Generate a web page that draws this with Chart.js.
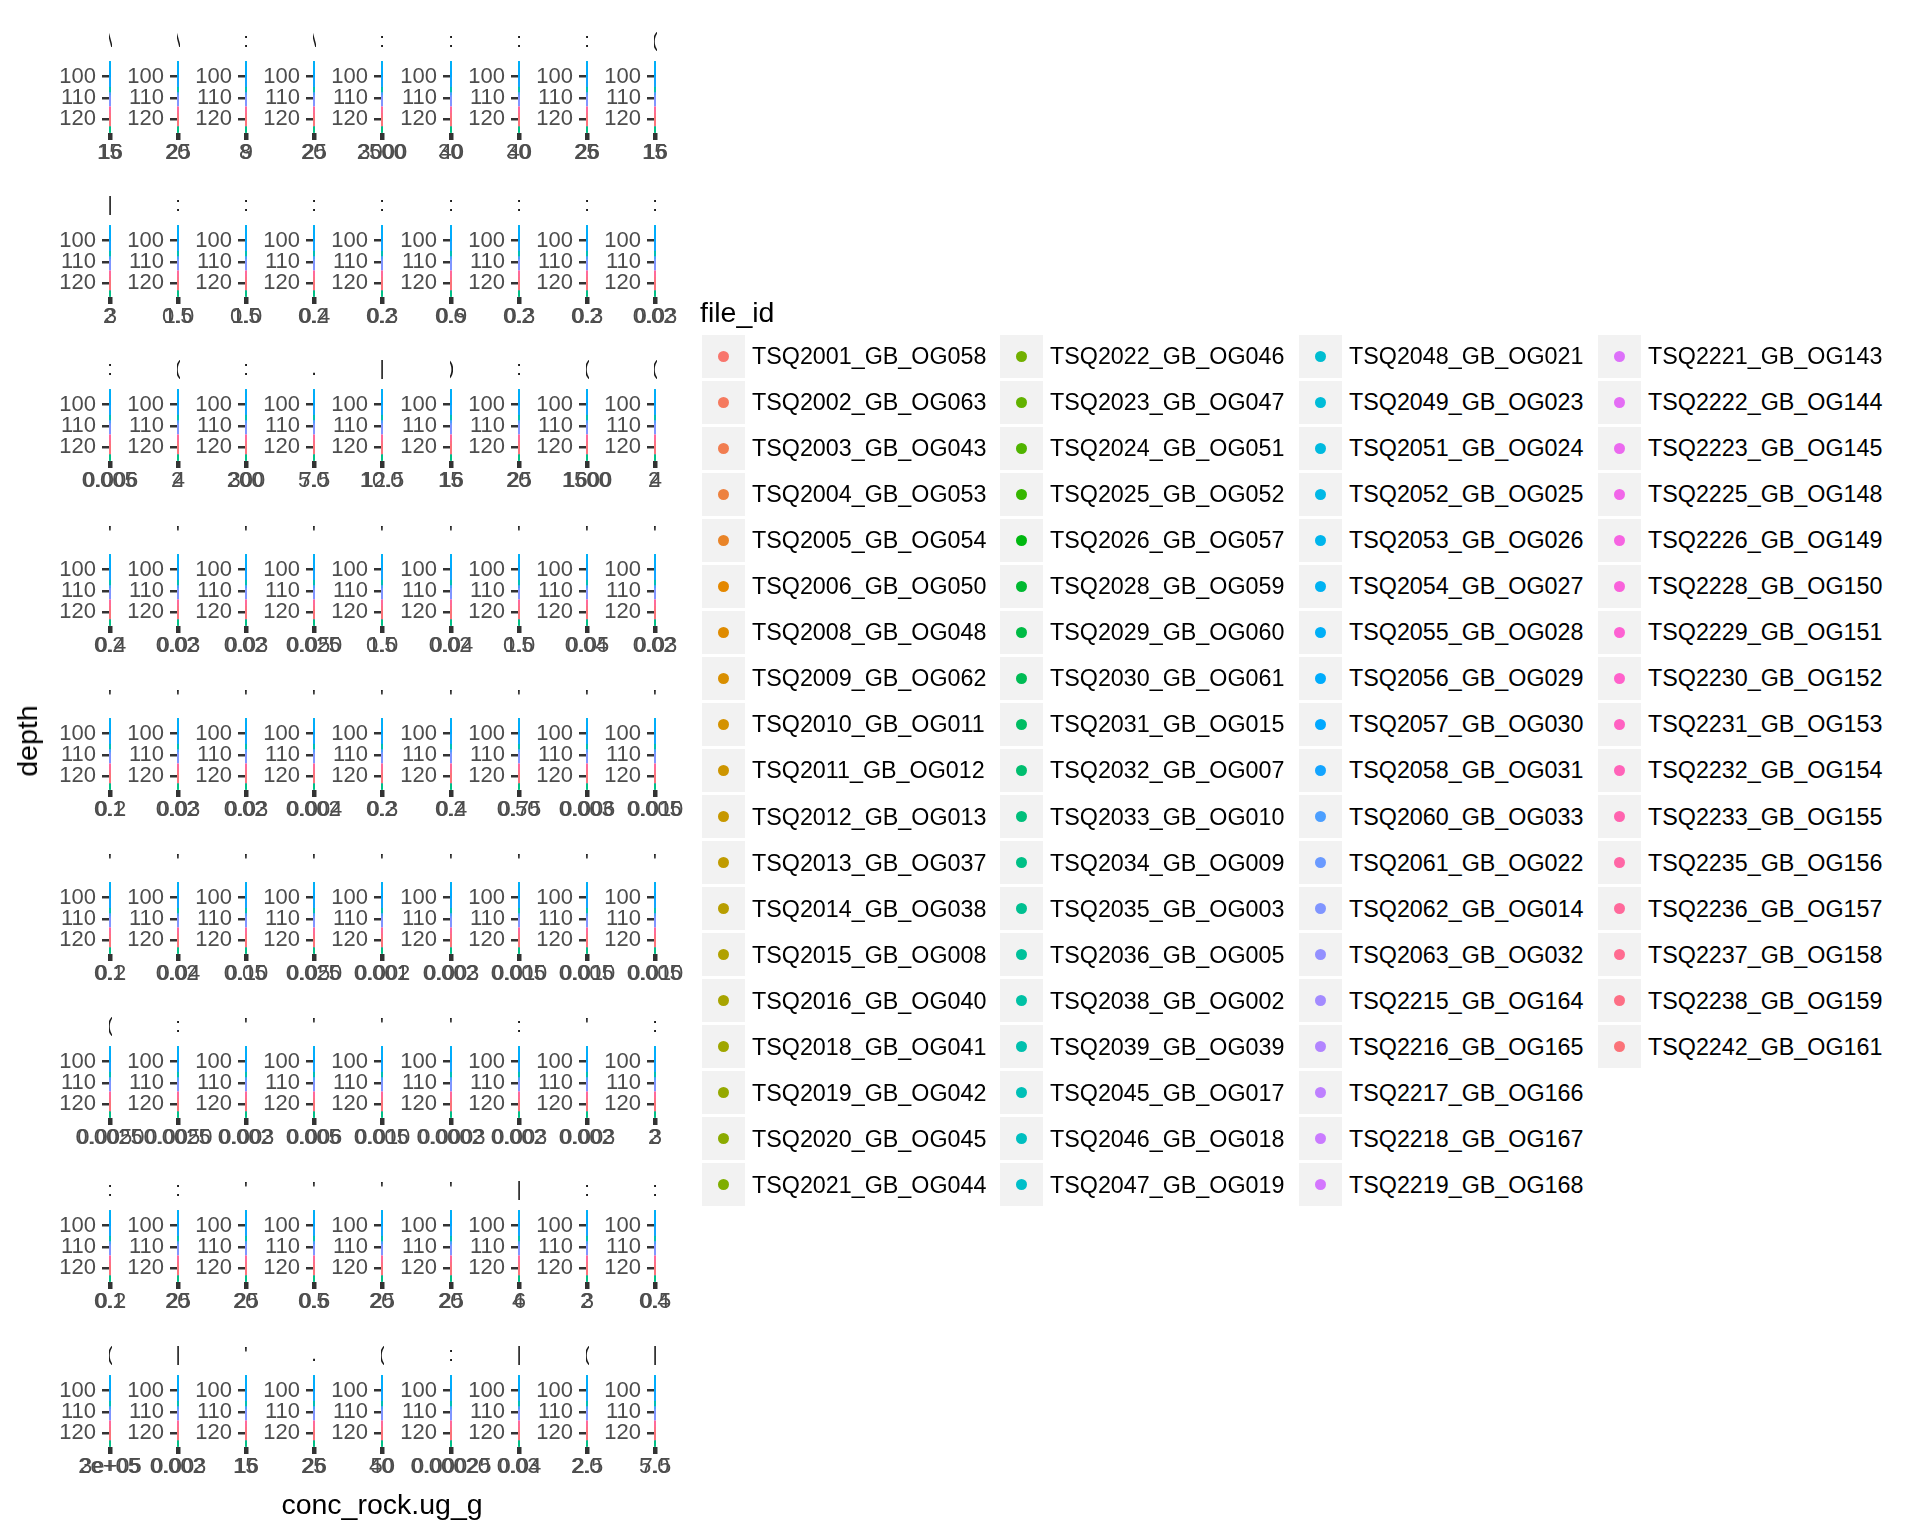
<!DOCTYPE html>
<html><head><meta charset="utf-8">
<script src="https://cdn.jsdelivr.net/npm/chart.js"></script>
<style>
html,body{margin:0;padding:0;background:#fff;}
#wrap{position:relative;width:1920px;height:1536px;overflow:hidden;font-family:"Liberation Sans",Arial,sans-serif;background:#fff;}
canvas.p{position:absolute;}
.strip{position:absolute;width:3px;height:30px;overflow:hidden;}
.strip span{position:absolute;left:-50px;top:0;width:103px;text-align:center;font-size:20px;line-height:30px;color:#1A1A1A;white-space:nowrap;}
.ttl{position:absolute;font-size:28.5px;color:#000;white-space:nowrap;line-height:34px;}
.key{position:absolute;width:43px;height:43px;background:#F2F2F2;}
.dot{position:absolute;width:11px;height:11px;border-radius:50%;left:16px;top:16px;}
.lab{position:absolute;font-size:23.3px;line-height:30px;color:#000;white-space:nowrap;}
</style></head><body><div id="wrap"></div>
<script>
// ---------------- data ----------------
const fileIds = [
 "TSQ2001_GB_OG058","TSQ2002_GB_OG063","TSQ2003_GB_OG043","TSQ2004_GB_OG053","TSQ2005_GB_OG054","TSQ2006_GB_OG050","TSQ2008_GB_OG048","TSQ2009_GB_OG062","TSQ2010_GB_OG011","TSQ2011_GB_OG012","TSQ2012_GB_OG013","TSQ2013_GB_OG037","TSQ2014_GB_OG038","TSQ2015_GB_OG008","TSQ2016_GB_OG040","TSQ2018_GB_OG041","TSQ2019_GB_OG042","TSQ2020_GB_OG045","TSQ2021_GB_OG044",
 "TSQ2022_GB_OG046","TSQ2023_GB_OG047","TSQ2024_GB_OG051","TSQ2025_GB_OG052","TSQ2026_GB_OG057","TSQ2028_GB_OG059","TSQ2029_GB_OG060","TSQ2030_GB_OG061","TSQ2031_GB_OG015","TSQ2032_GB_OG007","TSQ2033_GB_OG010","TSQ2034_GB_OG009","TSQ2035_GB_OG003","TSQ2036_GB_OG005","TSQ2038_GB_OG002","TSQ2039_GB_OG039","TSQ2045_GB_OG017","TSQ2046_GB_OG018","TSQ2047_GB_OG019",
 "TSQ2048_GB_OG021","TSQ2049_GB_OG023","TSQ2051_GB_OG024","TSQ2052_GB_OG025","TSQ2053_GB_OG026","TSQ2054_GB_OG027","TSQ2055_GB_OG028","TSQ2056_GB_OG029","TSQ2057_GB_OG030","TSQ2058_GB_OG031","TSQ2060_GB_OG033","TSQ2061_GB_OG022","TSQ2062_GB_OG014","TSQ2063_GB_OG032","TSQ2215_GB_OG164","TSQ2216_GB_OG165","TSQ2217_GB_OG166","TSQ2218_GB_OG167","TSQ2219_GB_OG168",
 "TSQ2221_GB_OG143","TSQ2222_GB_OG144","TSQ2223_GB_OG145","TSQ2225_GB_OG148","TSQ2226_GB_OG149","TSQ2228_GB_OG150","TSQ2229_GB_OG151","TSQ2230_GB_OG152","TSQ2231_GB_OG153","TSQ2232_GB_OG154","TSQ2233_GB_OG155","TSQ2235_GB_OG156","TSQ2236_GB_OG157","TSQ2237_GB_OG158","TSQ2238_GB_OG159","TSQ2242_GB_OG161"
];
// depth of each sample (estimated)
const sampleDepth = [
 96,98,100,102,117,119,121,96.5,98.5,100.5,110,111,117.5,119.5,120.5,97,99,101,102,
 110.5,117,118.5,120,95.5,97.5,99.5,101.5,116.8,118.2,120.8,124.2,121,111,119,98,106.1,100,102,
 97,99,101,101.5,95,96,95,97.5,100,102.5,109.7,111,111.7,117,118,119,120,121,116.5,
 117.5,118.5,119.5,120.5,117,118,119,120,121,116.6,118.7,120.2,116.5,118.5,119.5,121
];
// x tick labels of each facet (row by row)
const facetTicks = [
 ["15","16"],["20","25"],["8","9"],["20","25"],["2500","3000"],["30","40"],["30","40"],["25","26"],["15","16"],
 ["2","3"],["0.5","1.0"],["0.5","1.0"],["0.2","0.4"],["0.2","0.3"],["0.6","0.9"],["0.2","0.3"],["0.2","0.3"],["0.02","0.03"],
 ["0.005","0.006"],["2","4"],["200","300"],["5.0","7.5"],["10.0","12.5"],["15","16"],["20","25"],["1500","1600"],["2","4"],
 ["0.2","0.4"],["0.02","0.03"],["0.02","0.03"],["0.025","0.050"],["0.5","1.0"],["0.02","0.04"],["0.5","1.0"],["0.04","0.05"],["0.02","0.03"],
 ["0.1","0.2"],["0.02","0.03"],["0.02","0.03"],["0.002","0.004"],["0.2","0.3"],["0.2","0.4"],["0.50","0.75"],["0.003","0.006"],["0.005","0.010"],
 ["0.1","0.2"],["0.02","0.04"],["0.05","0.10"],["0.025","0.050"],["0.001","0.002"],["0.002","0.003"],["0.005","0.010"],["0.005","0.010"],["0.005","0.010"],
 ["0.0025","0.0050"],["0.0025","0.0050"],["0.002","0.003"],["0.005","0.006"],["0.005","0.010"],["0.0002","0.0003"],["0.002","0.003"],["0.002","0.003"],["2","3"],
 ["0.1","0.2"],["20","25"],["20","25"],["0.5","0.6"],["20","25"],["20","25"],["4","6"],["2","3"],["0.4","0.5"],
 ["2e+05","3e+05"],["0.002","0.003"],["15","16"],["25","26"],["40","50"],["0.00020","0.00025"],["0.03","0.04"],["2.0","2.5"],["5.0","7.5"]
];
// concentration where each facet's points sit (estimated)
const facetConc = [
 15.5,22,8.5,22,2700,35,35,25.5,15.5,
 2.5,0.8,0.8,0.3,0.25,0.75,0.25,0.25,0.025,
 0.0055,3,250,6,11,15.5,22,1550,3,
 0.3,0.025,0.025,0.04,0.8,0.03,0.8,0.045,0.025,
 0.15,0.025,0.025,0.003,0.25,0.3,0.6,0.0045,0.0075,
 0.15,0.03,0.075,0.04,0.0015,0.0025,0.0075,0.0075,0.0075,
 0.004,0.004,0.0025,0.0055,0.0075,0.00025,0.0025,0.0025,2.5,
 0.15,22,22,0.55,22,22,5,2.5,0.45,
 250000,0.0025,15.5,25.5,45,0.00022,0.035,2.2,6
];
// visible slivers of the (clipped) strip labels
const stripGlyphs = [
 "\\","\\",":","\\",":",":",":",":","(",
 "|",":",":",":",":",":",":",":",":",
 ":","(",":",".","|",")",":","(","(",
 "'","'","'","'","'","'","'","'","'",
 "'","'","'","'","'","'","'","'","'",
 "'","'","'","'","'","'","'","'","'",
 "(",":","'","'","'","'",":","'",":",
 ":",":","'","'","'","'","|",":",":",
 "(","|","'",".","(",":","|","(","|"
];
const depthTicks = [100,110,120];
const depthRange = [92.6,126.6];

// ---------------- colours (ggplot hue palette) ----------------
function hcl(h,c,l){
  const WY=100, Wu=0.1978398, Wv=0.4683363;
  const hr=h*Math.PI/180, U=c*Math.cos(hr), V=c*Math.sin(hr);
  const Y=WY*(l>7.999592?Math.pow((l+16)/116,3):l/903.3);
  const u=U/(13*l)+Wu, v=V/(13*l)+Wv;
  const X=9*Y*u/(4*v), Z=-X/3-5*Y+3*Y/v;
  const g=t=>t>0.00304?1.055*Math.pow(t,1/2.4)-0.055:12.92*t;
  const cl=x=>Math.round(255*Math.min(1,Math.max(0,x)));
  const R=g((3.240479*X-1.537150*Y-0.498535*Z)/WY);
  const G=g((-0.969256*X+1.875992*Y+0.041556*Z)/WY);
  const B=g((0.055648*X-0.204043*Y+1.057311*Z)/WY);
  return `rgb(${cl(R)},${cl(G)},${cl(B)})`;
}
const nIds=fileIds.length;
const colors=fileIds.map((_,i)=>hcl((15+i*360/nIds)%360,100,65));

// ---------------- layout ----------------
const wrap=document.getElementById('wrap');
const FONT="'Liberation Sans', Arial, sans-serif";
const panelW=2, panelH=72;
const LEFT=70, RIGHT=56, TOP=10, XH=42, YW=50;

for(let k=0;k<81;k++){
  const r=Math.floor(k/9), c=k%9;
  const px=Math.round(109+68.1*c), py=Math.round(61+164.2*r);
  const cv=document.createElement('canvas');
  cv.className='p';
  cv.width=LEFT+panelW+RIGHT; cv.height=TOP+panelH+XH;
  cv.style.width=cv.width+'px'; cv.style.height=cv.height+'px';
  cv.style.left=(px-LEFT)+'px'; cv.style.top=(py-TOP)+'px';
  wrap.appendChild(cv);

  const labels=facetTicks[k];
  const vals=labels.map(Number);
  const lo=vals[0], hi=vals[vals.length-1], d=hi-lo;

  new Chart(cv,{
    type:'scatter',
    data:{datasets:[{
      data:sampleDepth.map(dep=>({x:facetConc[k],y:dep})),
      pointBackgroundColor:colors, pointBorderWidth:0,
      pointRadius:5, pointHoverRadius:5, clip:0
    }]},
    options:{
      responsive:false, animation:false, devicePixelRatio:1, events:[],
      layout:{padding:{left:LEFT-YW,right:RIGHT,top:TOP,bottom:0}},
      plugins:{legend:{display:false},tooltip:{enabled:false},title:{display:false}},
      scales:{
        x:{type:'linear',min:lo-0.1*d,max:hi+0.1*d,
          afterBuildTicks:s=>{s.ticks=vals.map(v=>({value:v}));},
          afterFit:s=>{s.height=XH;s.paddingLeft=0;s.paddingRight=0;},
          ticks:{autoSkip:false,maxRotation:0,minRotation:0,padding:0,color:'#4D4D4D',
            font:{family:FONT,size:22},callback:(v,i)=>labels[i]},
          grid:{drawOnChartArea:false,drawTicks:true,tickLength:7,color:'#333333',lineWidth:2.5},
          border:{display:false}},
        y:{type:'linear',reverse:true,min:depthRange[0],max:depthRange[1],
          afterBuildTicks:s=>{s.ticks=depthTicks.map(v=>({value:v}));},
          afterFit:s=>{s.width=YW;s.paddingTop=0;s.paddingBottom=0;},
          ticks:{padding:6,color:'#4D4D4D',font:{family:FONT,size:22},callback:v=>String(v)},
          grid:{drawOnChartArea:false,drawTicks:true,tickLength:7,color:'#333333',lineWidth:2.5},
          border:{display:false}}
      }
    }
  });

  const st=document.createElement('div');
  st.className='strip';
  st.style.left=(px-0.5)+'px'; st.style.top=(py-36)+'px';
  const sp=document.createElement('span'); sp.textContent=stripGlyphs[k];
  st.appendChild(sp); wrap.appendChild(st);
}

// axis titles
const yt=document.createElement('div'); yt.className='ttl'; yt.textContent='depth';
yt.style.left='27px'; yt.style.top='741px'; yt.style.transform='translate(-50%,-50%) rotate(-90deg)';
wrap.appendChild(yt);
const xt=document.createElement('div'); xt.className='ttl'; xt.textContent='conc_rock.ug_g';
xt.style.left='382px'; xt.style.top='1504px'; xt.style.transform='translate(-50%,-50%)';
wrap.appendChild(xt);

// legend
const lt=document.createElement('div'); lt.className='ttl'; lt.textContent='file_id';
lt.style.left='700px'; lt.style.top=(312-17)+'px'; wrap.appendChild(lt);
fileIds.forEach((id,i)=>{
  const col=Math.floor(i/19), row=i%19;
  const x=Math.round(701.6+298.8*col), cy=356+46.05*row;
  const key=document.createElement('div'); key.className='key';
  key.style.left=x+'px'; key.style.top=Math.round(cy-21.5)+'px';
  const dot=document.createElement('div'); dot.className='dot'; dot.style.background=colors[i];
  key.appendChild(dot); wrap.appendChild(key);
  const lab=document.createElement('div'); lab.className='lab'; lab.textContent=id;
  lab.style.left=(x+50)+'px'; lab.style.top=Math.round(cy-15)+'px';
  wrap.appendChild(lab);
});
</script></body></html>
